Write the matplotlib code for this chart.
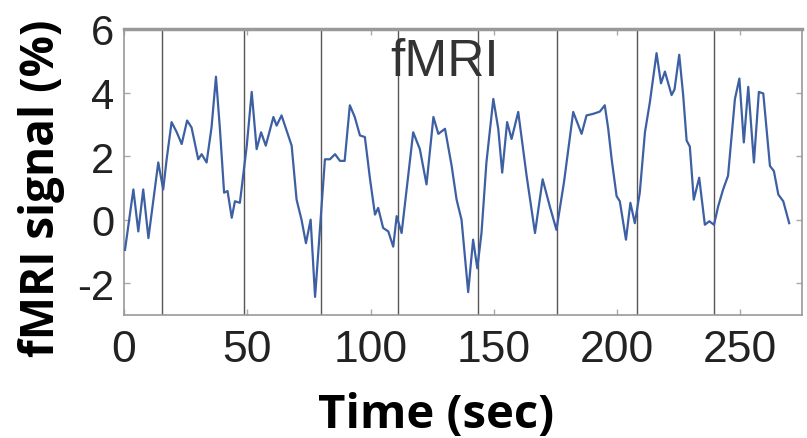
import matplotlib
matplotlib.use('Agg')
import matplotlib.pyplot as plt

plt.rcParams['axes.unicode_minus'] = False

# fMRI time course (sec, % signal)
time_sec = [0.4, 3.8, 5.8, 7.8, 9.9, 13.9, 15.9, 17.3, 19.3, 21.4, 23.4, 25.6, 27.4,
            30.1, 31.5, 33.5, 35.5, 37.3, 38.9, 40.6, 42.0, 43.7, 45.0, 47.0, 49.8,
            51.8, 53.8, 55.6, 57.5, 60.6, 61.9, 63.9, 68.0, 70.0, 72.0, 73.8, 75.7,
            77.5, 81.5, 83.5, 85.6, 87.6, 89.5, 91.6, 93.6, 95.7, 97.7, 99.8, 101.8,
            103.1, 105.1, 107.2, 109.2, 110.6, 112.6, 117.3, 120.0, 122.7, 125.5,
            127.5, 130.2, 132.9, 134.9, 136.9, 139.6, 141.6, 143.3, 145.0, 147.0,
            149.8, 151.8, 153.4, 155.4, 157.2, 159.9, 163.3, 166.7, 169.8, 172.7,
            175.4, 178.5, 182.2, 185.6, 187.6, 190.3, 193.0, 195.0, 196.4, 197.8,
            199.8, 201.1, 203.6, 205.4, 207.2, 209.2, 211.3, 213.3, 216.0, 217.8,
            219.4, 222.1, 223.3, 225.2, 226.8, 228.2, 229.5, 231.1, 233.3, 235.6,
            237.4, 239.3, 241.0, 243.0, 245.0, 247.8, 249.6, 251.4, 253.2, 255.5,
            257.5, 259.3, 262.0, 263.6, 265.4, 267.4, 269.8]
signal = [-0.95, 0.95, -0.37, 0.95, -0.58, 1.8, 0.95, 1.9, 3.07, 2.75, 2.38, 3.12, 2.9,
          1.9, 2.06, 1.8, 2.9, 4.5, 2.86, 0.85, 0.9, 0.06, 0.58, 0.53, 2.33,
          4.02, 2.22, 2.75, 2.33, 3.23, 2.96, 3.28, 2.33, 0.63, 0.0, -0.74, 0.0,
          -2.43, 1.9, 1.9, 2.06, 1.85, 1.85, 3.6, 3.23, 2.65, 2.6, 1.27, 0.16,
          0.37, -0.26, -0.37, -0.85, 0.11, -0.42, 2.75, 2.22, 1.11, 3.23,
          2.7, 2.86, 1.69, 0.63, 0.0, -2.28, -0.63, -1.53, -0.42, 1.8,
          3.8, 2.86, 1.48, 3.07, 2.54, 3.39, 1.38, -0.42, 1.27, 0.42,
          -0.32, 1.2, 3.39, 2.7, 3.28, 3.33, 3.4, 3.6, 2.86, 1.9,
          0.74, 0.58, -0.63, 0.53, -0.11, 0.85, 2.75, 3.7, 5.24, 4.29,
          4.66, 3.92, 4.1, 5.19, 3.92, 2.49, 2.3, 0.63, 1.32, -0.16,
          -0.05, -0.16, 0.42, 0.95, 1.38, 3.8, 4.44, 2.43, 4.18, 1.8,
          4.02, 3.97, 1.69, 1.53, 0.79, 0.58, -0.11]

# block boundaries (vertical lines)
block_edges = [15.4, 48.7, 79.9, 111.1, 143.6, 175.6, 208.0, 239.3]

x_ticks = [0, 50, 100, 150, 200, 250]
y_ticks = [-2, 0, 2, 4, 6]

fig = plt.figure(figsize=(8.07, 4.39), dpi=100)
ax = fig.add_axes([124 / 807, 1 - 316 / 439, 678 / 807, 286 / 439])

for t in block_edges:
    ax.axvline(t, color='#555555', linewidth=1.0, zorder=1)

ax.plot(time_sec, signal, color='#3d5fa3', linewidth=1.6, zorder=3)

ax.set_xlim(0, 275)
ax.set_ylim(-3, 6)
ax.set_xticks(x_ticks)
ax.set_yticks(y_ticks)

for side in ['left', 'right', 'bottom']:
    ax.spines[side].set_color('#999999')
    ax.spines[side].set_linewidth(1.2)
ax.spines['top'].set_color('#999999')
ax.spines['top'].set_linewidth(2.5)

tick_font = ['Liberation Sans Narrow', 'Liberation Sans', 'DejaVu Sans']
ax.tick_params(axis='both', direction='in', length=4, width=1, color='#aaaaaa',
               top=True, right=True)
ax.tick_params(axis='x', pad=10, labelcolor='#222222')
ax.tick_params(axis='y', pad=7, labelcolor='#222222')
for lab in ax.get_xticklabels():
    lab.set_family(tick_font)
    lab.set_fontsize(32)
for lab in ax.get_yticklabels():
    lab.set_family(tick_font)
    lab.set_fontsize(30)

ax.text(0.473, 0.888, 'fMRI', transform=ax.transAxes, ha='center', va='center',
        fontsize=37, color='#333333', family=['Liberation Sans', 'DejaVu Sans'])

label_font = ['Open Sans', 'DejaVu Sans']
fig.text(436 / 807, 1 - 428 / 439, 'Time (sec)', ha='center', va='baseline',
         fontsize=34, fontweight='bold', family=label_font, color='black')
fig.text(42 / 807, 1 - 188 / 439, 'fMRI signal (%)', ha='center', va='center',
         rotation=90, fontsize=33, fontweight='bold', family=label_font, color='black')

fig.savefig('out.png', dpi=100)
